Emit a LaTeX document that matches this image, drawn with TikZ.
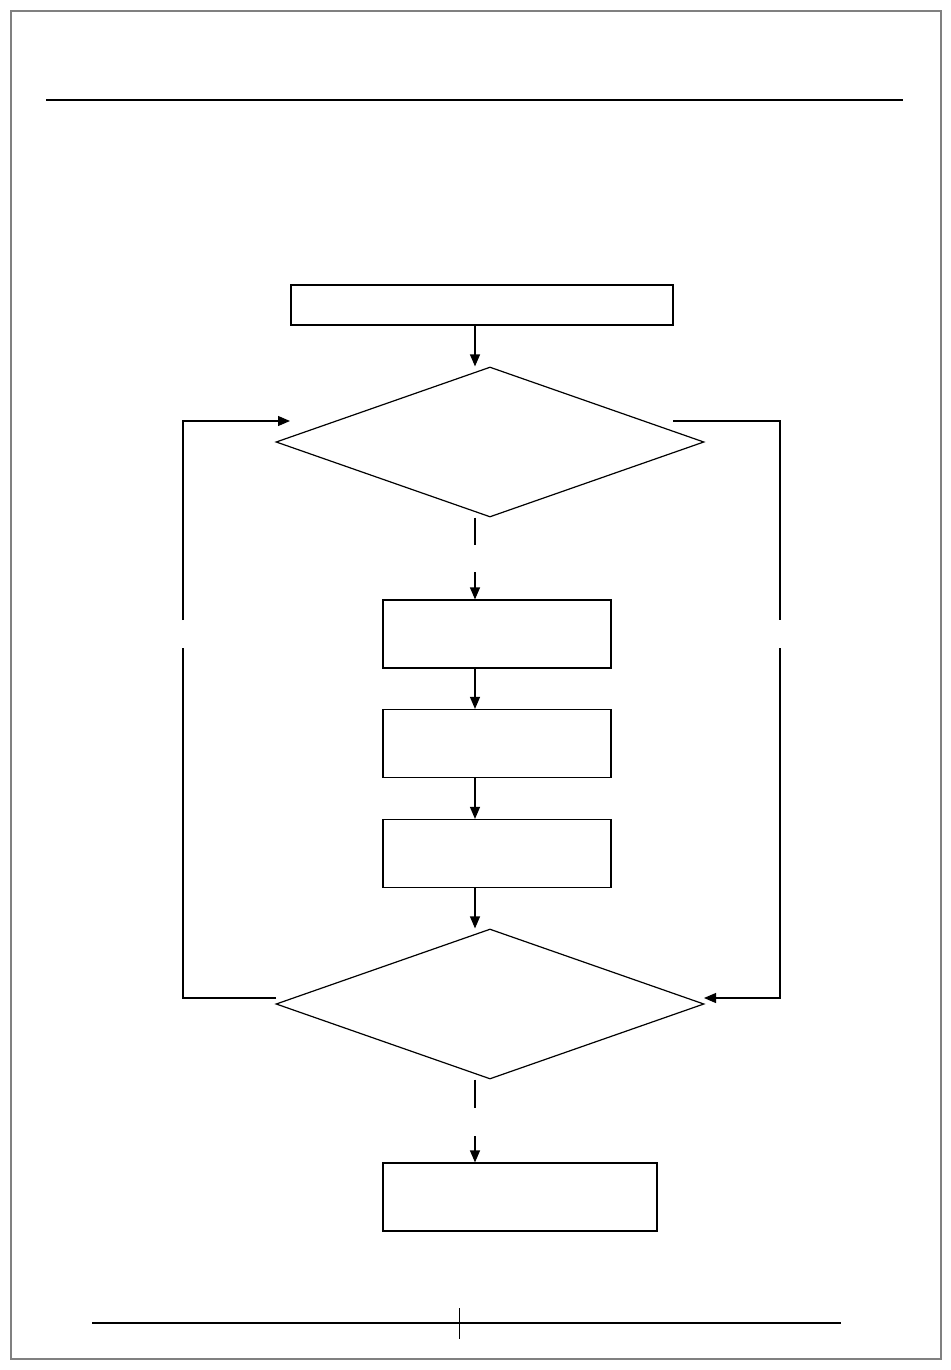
\documentclass[tikz,border=0pt]{standalone}
\usepackage{tikz}
\usetikzlibrary{positioning,shapes,arrows.meta,calc}

\begin{document}
\begin{tikzpicture}[x=0.5pt,y=-0.5pt,>={Triangle[length=6pt,width=5pt]},
                    line width=0.6pt]
  \tikzstyle{stage}=[draw, rectangle, minimum width=114pt, minimum height=34pt, inner sep=0pt]
  \tikzstyle{check}=[draw, diamond, minimum width=214pt, minimum height=75pt, inner sep=0pt]

  \useasboundingbox (0,0) rectangle (950,1370);
  % page frame, header and footer rules
  \draw[gray, line width=0.8pt] (11,11) rectangle (941,1359);
  \draw[line width=1pt] (46,100) -- (903,100);
  \draw[line width=1pt] (92,1323) -- (841,1323);
  \draw[line width=0.4pt] (459,1308) -- (459,1339);

  \node[stage, minimum width=191pt, minimum height=20pt] (start) at (482,305) {};
  \node[check] (test)  at (490,442) {};
  \node[stage] (read)  at (497,634) {};
  \node[stage] (calc)  at (497,743.5) {};
  \node[stage] (write) at (497,853.5) {};
  \node[check] (done)  at (490,1004) {};
  \node[stage, minimum width=137pt] (stop) at (520,1197) {};

  \coordinate (col) at (475,0);
  \coordinate (railL) at (183,0);
  \coordinate (railR) at (780,0);
  \coordinate (gapHi) at (0,620);
  \coordinate (gapLo) at (0,648);
  \coordinate (inL)  at (290,421);
  \coordinate (outR) at (673,421);
  \coordinate (outL) at (276,998);
  \coordinate (inR)  at (704,998);
  \coordinate (cutA) at (475,545);
  \coordinate (cutB) at (475,572);
  \coordinate (cutC) at (475,1108);
  \coordinate (cutD) at (475,1136);

  % main column
  \draw[->] (start.south -| col) -- (test.north -| col);
  \draw (test.south -| col) -- (cutA);
  \draw[->] (cutB) -- (read.north -| col);
  \draw[->] (read.south -| col) -- (calc.north -| col);
  \draw[->] (calc.south -| col) -- (write.north -| col);
  \draw[->] (write.south -| col) -- (done.north -| col);
  \draw (done.south -| col) -- (cutC);
  \draw[->] (cutD) -- (stop.north -| col);

  % loops
  \draw (outL) -- (outL -| railL) -- (railL |- gapLo);
  \draw[->] (railL |- gapHi) -- (railL |- inL) -- (inL);
  \draw (outR) -- (outR -| railR) -- (railR |- gapHi);
  \draw[->] (railR |- gapLo) -- (railR |- inR) -- (inR);
\end{tikzpicture}
\end{document}
